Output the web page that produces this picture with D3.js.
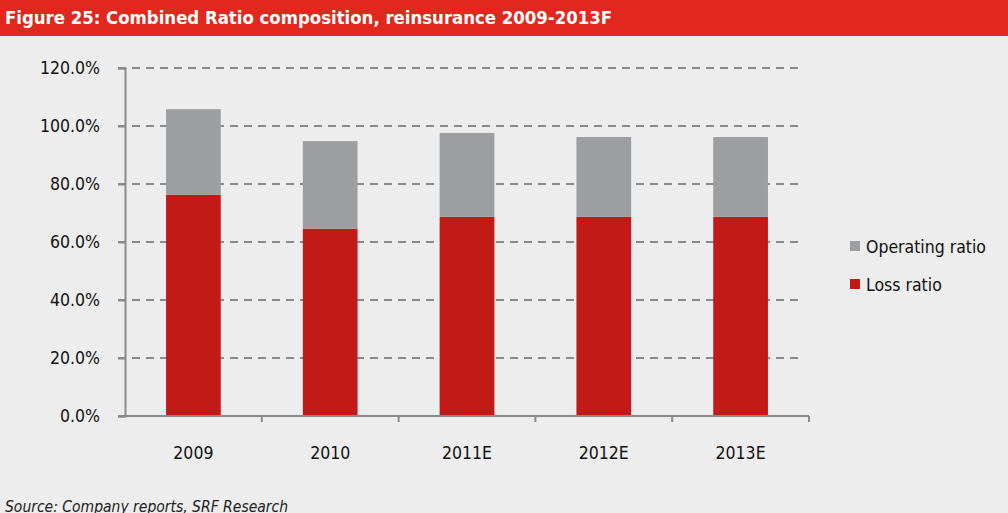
<!DOCTYPE html>
<html>
<head>
<meta charset="utf-8">
<script src="https://cdn.jsdelivr.net/npm/d3@7"></script>
<style>
  html, body { margin: 0; padding: 0; background: #ecedec; }
  svg { display: block; }
  text { font-family: "DejaVu Sans Condensed", "DejaVu Sans", sans-serif; }
</style>
</head>
<body>
<svg id="chart" width="1008" height="513"></svg>
<script>
// Combined ratio composition, reinsurance
const years = ["2009", "2010", "2011E", "2012E", "2013E"];
const lossRatio = [76.3, 64.6, 68.7, 68.7, 68.7];
const operatingRatio = [29.5, 30.2, 28.9, 27.5, 27.5];
const yTicks = [0, 20, 40, 60, 80, 100, 120];
const seriesNames = ["Operating ratio", "Loss ratio"];
const seriesColors = ["#9d9e9f", "#c21b17"];

const svg = d3.select("#chart");
const W = 1008, H = 513;
const labelSize = 17.5;

svg.append("rect").attr("width", W).attr("height", H).attr("fill", "#ecedec");

// title bar
svg.append("rect").attr("x", 0).attr("y", 0).attr("width", W).attr("height", 36).attr("fill", "#e0281e");
svg.append("text")
  .attr("x", 5).attr("y", 24)
  .attr("fill", "#ffffff")
  .attr("font-size", 17)
  .attr("font-weight", "bold")
  .attr("textLength", 607)
  .attr("lengthAdjust", "spacingAndGlyphs")
  .text("Figure 25: Combined Ratio composition, reinsurance 2009-2013F");

const plotLeft = 125, plotRight = 809, plotTop = 68, plotBottom = 416;

const x = d3.scaleBand().domain(years).range([plotLeft, plotRight]).paddingInner(0.6).paddingOuter(0.3);
const xEdge = d3.scaleLinear().domain([0, years.length]).range([plotLeft, plotRight]);
const y = d3.scaleLinear().domain([0, 120]).range([plotBottom, plotTop]);

// dashed gridlines
svg.append("g").selectAll("line").data(yTicks.filter(d => d > 0)).join("line")
  .attr("x1", 118).attr("x2", 804)
  .attr("y1", d => y(d)).attr("y2", d => y(d))
  .attr("stroke", "#8a8a8a").attr("stroke-width", 2)
  .attr("stroke-dasharray", "8,6");

// stacked bars
const stackData = years.map((yr, i) => ({ year: yr, loss: lossRatio[i], op: operatingRatio[i] }));
const stack = d3.stack().keys(["loss", "op"])(stackData);
const colorFor = { loss: seriesColors[1], op: seriesColors[0] };

svg.append("g").selectAll("g").data(stack).join("g")
  .attr("fill", d => colorFor[d.key])
  .selectAll("rect").data(d => d).join("rect")
  .attr("x", d => x(d.data.year))
  .attr("width", x.bandwidth())
  .attr("y", d => y(d[1]))
  .attr("height", d => y(d[0]) - y(d[1]));

// y axis
const yAxis = d3.axisLeft(y).tickValues(yTicks).tickSize(7).tickPadding(18)
  .tickFormat(d => d.toFixed(1) + "%");
const gy = svg.append("g").attr("transform", `translate(${plotLeft},0)`).call(yAxis);
gy.attr("font-family", null);
gy.select(".domain").attr("stroke", "#8a8a8a").attr("stroke-width", 2);
gy.selectAll(".tick line").attr("stroke", "#8a8a8a").attr("stroke-width", 2);
gy.selectAll(".tick text").attr("font-size", labelSize).attr("fill", "#111");

// x axis with ticks on category boundaries
const gx = svg.append("g").attr("transform", `translate(0,${plotBottom})`);
gx.append("line").attr("x1", 118).attr("x2", plotRight).attr("stroke", "#8a8a8a").attr("stroke-width", 2);
gx.selectAll("line.tk").data(d3.range(1, years.length + 1)).join("line").attr("class", "tk")
  .attr("x1", d => xEdge(d)).attr("x2", d => xEdge(d))
  .attr("y1", 0).attr("y2", 6)
  .attr("stroke", "#8a8a8a").attr("stroke-width", 2);
gx.selectAll("text").data(years).join("text")
  .attr("x", d => x(d) + x.bandwidth() / 2)
  .attr("y", 43)
  .attr("text-anchor", "middle")
  .attr("font-size", labelSize).attr("fill", "#111")
  .text(d => d);

// legend
const legend = svg.append("g").selectAll("g").data(seriesNames).join("g")
  .attr("transform", (d, i) => `translate(850,${241 + i * 38})`);
legend.append("rect").attr("width", 10).attr("height", 10).attr("fill", (d, i) => seriesColors[i]);
legend.append("text").attr("x", 16).attr("y", 11.5)
  .attr("font-size", labelSize).attr("fill", "#111").text(d => d);

// source
svg.append("text").attr("x", 5).attr("y", 512)
  .attr("font-size", 15.5).attr("font-style", "italic").attr("fill", "#222")
  .text("Source: Company reports, SRF Research");
</script>
</body>
</html>
